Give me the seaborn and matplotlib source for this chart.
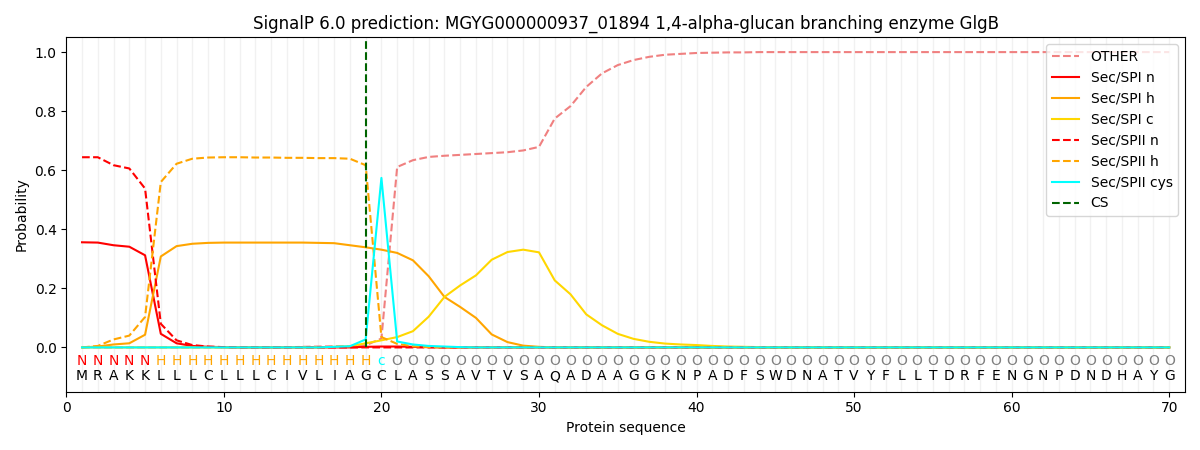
import numpy as np
import pandas as pd
import matplotlib
matplotlib.use("Agg")
import matplotlib.pyplot as plt
import seaborn as sns

sequence = list("MRAKKLLLCLLLCIVLIAGCLASSAVTVSAQADAAGGKNPADFSWDNATVYFLLTDRFENGNPDNDHAYG")
labels = list("NNNNN" + "H" * 14 + "c" + "O" * 50)
positions = list(range(1, 71))

other = [0.0, 0.0, 0.0, 0.0, 0.0, 0.0, 0.0, 0.0, 0.0, 0.0,
         0.0, 0.0, 0.0, 0.0, 0.002, 0.003, 0.004, 0.004, 0.007, 0.03,
         0.611, 0.634, 0.645, 0.649, 0.652, 0.655, 0.658, 0.661, 0.667, 0.679,
         0.775, 0.817, 0.882, 0.928, 0.956, 0.973, 0.984, 0.991, 0.994, 0.997,
         0.998, 0.999, 0.999, 1.0, 1.0, 1.0, 1.0, 1.0, 1.0, 1.0,
         1.0, 1.0, 1.0, 1.0, 1.0, 1.0, 1.0, 1.0, 1.0, 1.0,
         1.0, 1.0, 1.0, 1.0, 1.0, 1.0, 1.0, 1.0, 1.0, 1.0]
spi_n = [0.356, 0.355, 0.346, 0.341, 0.312, 0.046, 0.014, 0.005, 0.002, 0.001] + [0.0] * 8 + \
        [0.002, 0.003, 0.003, 0.002, 0.001] + [0.0] * 47
spi_h = [0.0, 0.003, 0.01, 0.014, 0.043, 0.308, 0.343, 0.351, 0.354, 0.355,
         0.355, 0.355, 0.355, 0.355, 0.355, 0.354, 0.353, 0.346, 0.339, 0.331,
         0.32, 0.295, 0.241, 0.171, 0.137, 0.1, 0.044, 0.018, 0.006, 0.002] + [0.0] * 40
spi_c = [0.0] * 16 + [0.002, 0.004, 0.014, 0.024,
         0.035, 0.055, 0.104, 0.171, 0.21, 0.244, 0.297, 0.323, 0.331, 0.322,
         0.227, 0.18, 0.112, 0.075, 0.046, 0.029, 0.019, 0.013, 0.01, 0.008,
         0.005, 0.003, 0.002, 0.001] + [0.0] * 26
spii_n = [0.644, 0.644, 0.617, 0.606, 0.538, 0.08, 0.024, 0.008, 0.003, 0.001] + [0.0] * 60
spii_h = [0.0, 0.005, 0.027, 0.04, 0.103, 0.56, 0.622, 0.639, 0.643, 0.644,
          0.644, 0.643, 0.643, 0.642, 0.642, 0.641, 0.641, 0.639, 0.617, 0.035,
          0.012, 0.004, 0.001] + [0.0] * 47
spii_cys = [0.0] * 16 + [0.002, 0.004, 0.027, 0.574, 0.02, 0.01, 0.005, 0.003, 0.001] + [0.0] * 45
cs_position = 19

series_names = ["OTHER", "Sec/SPI n", "Sec/SPI h", "Sec/SPI c", "Sec/SPII n", "Sec/SPII h", "Sec/SPII cys"]
series_values = [other, spi_n, spi_h, spi_c, spii_n, spii_h, spii_cys]
series_colors = ["lightcoral", "red", "orange", "gold", "red", "orange", "cyan"]
series_dashed = [True, False, False, False, True, True, False]

label_colors = {"N": "red", "H": "orange", "c": "cyan", "O": "gray"}

fig, ax = plt.subplots(figsize=(12, 4.5), dpi=100)

for p in positions:
    ax.axvline(p, color="lightgray", alpha=0.3, lw=1, zorder=0)

for name, vals, col, dash in zip(series_names, series_values, series_colors, series_dashed):
    df = pd.DataFrame({"pos": positions, "prob": vals})
    sns.lineplot(data=df, x="pos", y="prob", ax=ax, color=col, label=name,
                 linestyle="--" if dash else "-", lw=1.5)

ymin, ymax = -0.15, 1.05
ax.axvline(cs_position, ymin=(0 - ymin) / (ymax - ymin), ymax=1,
           color="darkgreen", linestyle="--", lw=1.5, label="CS")

for p, aa, lab in zip(positions, sequence, labels):
    ax.text(p, -0.047, lab, ha="center", va="center", fontsize=10, color=label_colors[lab])
    ax.text(p, -0.098, aa, ha="center", va="center", fontsize=10, color="black")

ax.set_xlim(0, 71)
ax.set_ylim(ymin, ymax)
ax.set_xticks(range(0, 71, 10))
ax.set_yticks([0.0, 0.2, 0.4, 0.6, 0.8, 1.0])
ax.set_xlabel("Protein sequence")
ax.set_ylabel("Probability")
ax.set_title("SignalP 6.0 prediction: MGYG000000937_01894 1,4-alpha-glucan branching enzyme GlgB")
ax.legend(loc="upper right")
fig.tight_layout()
fig.savefig("out.png")
